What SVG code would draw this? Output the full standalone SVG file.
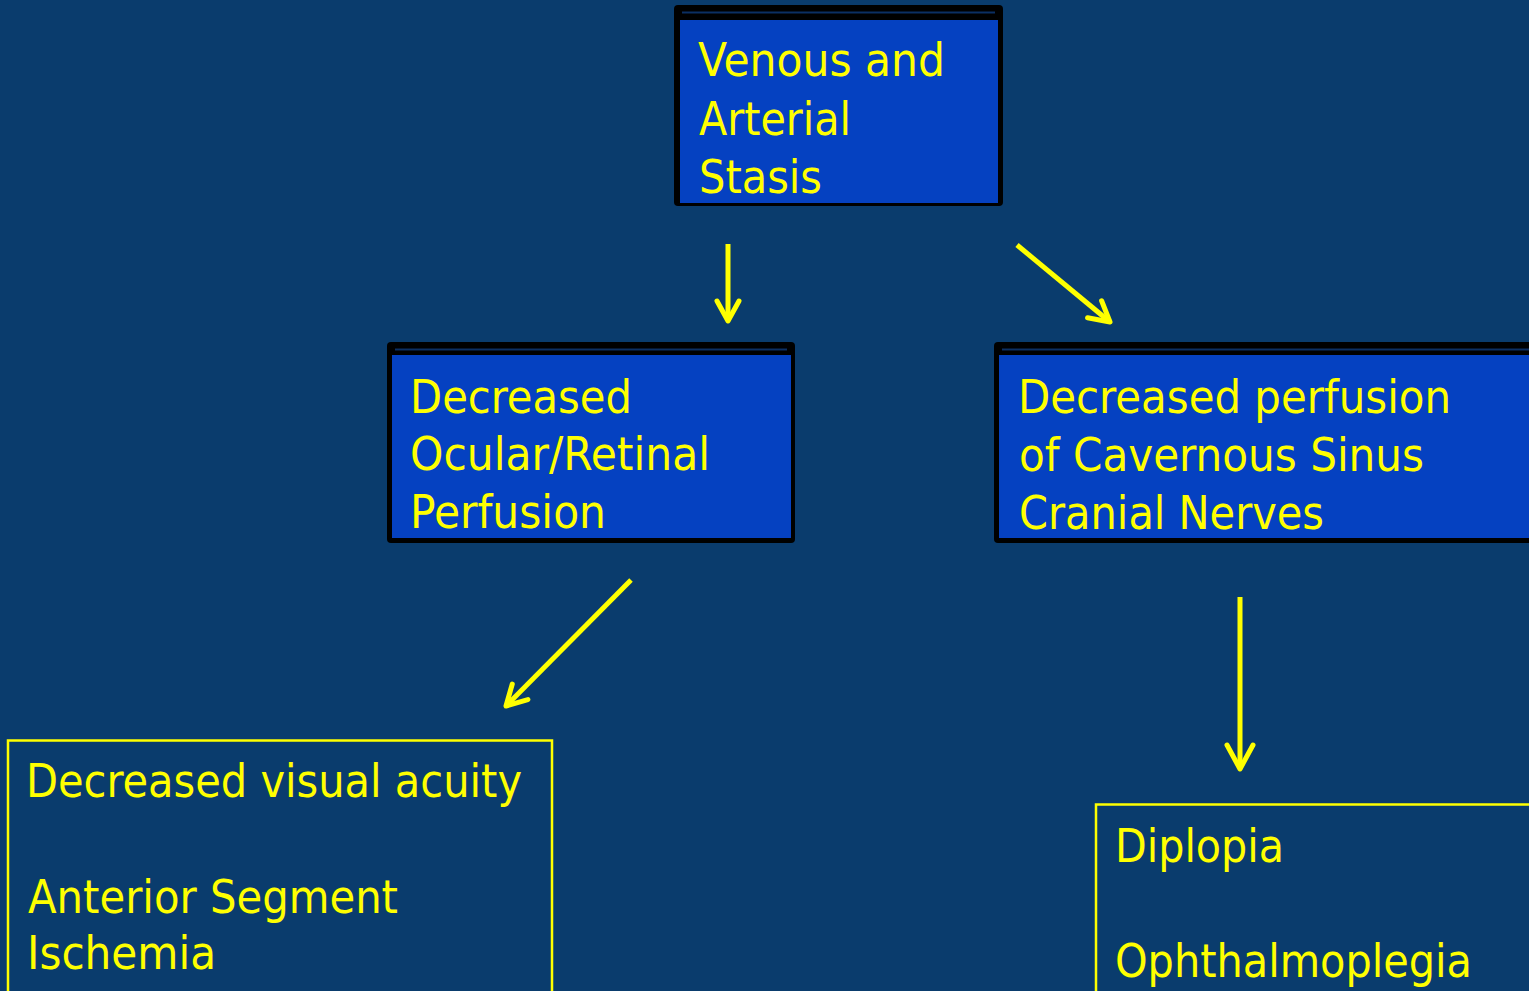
<svg xmlns="http://www.w3.org/2000/svg" width="1529" height="991" viewBox="0 0 1529 991">
<style>
.t{font-family:"DejaVu Sans Condensed","DejaVu Sans","Liberation Sans",sans-serif;font-size:47px;fill:#FFFF00}
.frame{fill:#000000}
.fill{fill:#0541C1}
.band{stroke:#0B2F63;stroke-width:2}
.out{fill:none;stroke:#FFFF00;stroke-width:2.5}
.c{stroke:#FFFF00;stroke-width:5;fill:none}
</style>
<defs>
<marker id="ah" markerUnits="userSpaceOnUse" viewBox="-30 -20 40 40" markerWidth="40" markerHeight="40" refX="0" refY="0" orient="auto">
<path d="M-20,-11 L0,0 L-20,11" fill="none" stroke="#FFFF00" stroke-width="5" stroke-linecap="round" stroke-linejoin="round"/>
</marker>
<marker id="ahL" markerUnits="userSpaceOnUse" viewBox="-30 -20 40 40" markerWidth="40" markerHeight="40" refX="0" refY="0" orient="auto">
<path d="M-24,-13 L0,0 L-24,13" fill="none" stroke="#FFFF00" stroke-width="5" stroke-linecap="round" stroke-linejoin="round"/>
</marker>
</defs>
<rect x="0" y="0" width="1529" height="991" fill="#0A3C6D"/>
<g id="connectors">
<line class="c" x1="728" y1="244" x2="728" y2="321" marker-end="url(#ah)"/>
<line class="c" x1="1017" y1="245" x2="1110" y2="322" marker-end="url(#ah)"/>
<line class="c" x1="631" y1="580" x2="506" y2="706" marker-end="url(#ah)"/>
<line class="c" x1="1240" y1="597" x2="1240" y2="769" marker-end="url(#ahL)"/>
</g>
<g id="n1">
<rect class="frame" x="674" y="5" width="329" height="201" rx="4"/>
<line class="band" x1="682" y1="12.5" x2="995" y2="12.5"/>
<rect class="fill" x="680" y="20" width="318" height="183"/>
<text class="t" x="698" y="76" textLength="247" lengthAdjust="spacingAndGlyphs">Venous and</text>
<text class="t" x="699" y="135" textLength="152" lengthAdjust="spacingAndGlyphs">Arterial</text>
<text class="t" x="699" y="193" textLength="123" lengthAdjust="spacingAndGlyphs">Stasis</text>
</g>
<g id="n2">
<rect class="frame" x="387" y="342" width="408" height="201" rx="4"/>
<line class="band" x1="395" y1="349.5" x2="787" y2="349.5"/>
<rect class="fill" x="392" y="355" width="399" height="183"/>
<text class="t" x="410" y="413" textLength="222" lengthAdjust="spacingAndGlyphs">Decreased</text>
<text class="t" x="410" y="470" textLength="300" lengthAdjust="spacingAndGlyphs">Ocular/Retinal</text>
<text class="t" x="410" y="528" textLength="196" lengthAdjust="spacingAndGlyphs">Perfusion</text>
</g>
<g id="n3">
<rect class="frame" x="994" y="342" width="545" height="201" rx="4"/>
<line class="band" x1="1002" y1="349.5" x2="1529" y2="349.5"/>
<rect class="fill" x="999" y="355" width="530" height="183"/>
<text class="t" x="1018" y="413" textLength="433" lengthAdjust="spacingAndGlyphs">Decreased perfusion</text>
<text class="t" x="1019" y="471" textLength="405" lengthAdjust="spacingAndGlyphs">of Cavernous Sinus</text>
<text class="t" x="1019" y="529" textLength="305" lengthAdjust="spacingAndGlyphs">Cranial Nerves</text>
</g>
<g id="n4">
<rect class="out" x="8" y="740.5" width="544" height="270"/>
<text class="t" x="26" y="797" textLength="496" lengthAdjust="spacingAndGlyphs">Decreased visual acuity</text>
<text class="t" x="28" y="913" textLength="370" lengthAdjust="spacingAndGlyphs">Anterior Segment</text>
<text class="t" x="27" y="969" textLength="189" lengthAdjust="spacingAndGlyphs">Ischemia</text>
</g>
<g id="n5">
<rect class="out" x="1096" y="804.5" width="450" height="210"/>
<text class="t" x="1115" y="862" textLength="169" lengthAdjust="spacingAndGlyphs">Diplopia</text>
<text class="t" x="1115" y="977" textLength="357" lengthAdjust="spacingAndGlyphs">Ophthalmoplegia</text>
</g>
</svg>
